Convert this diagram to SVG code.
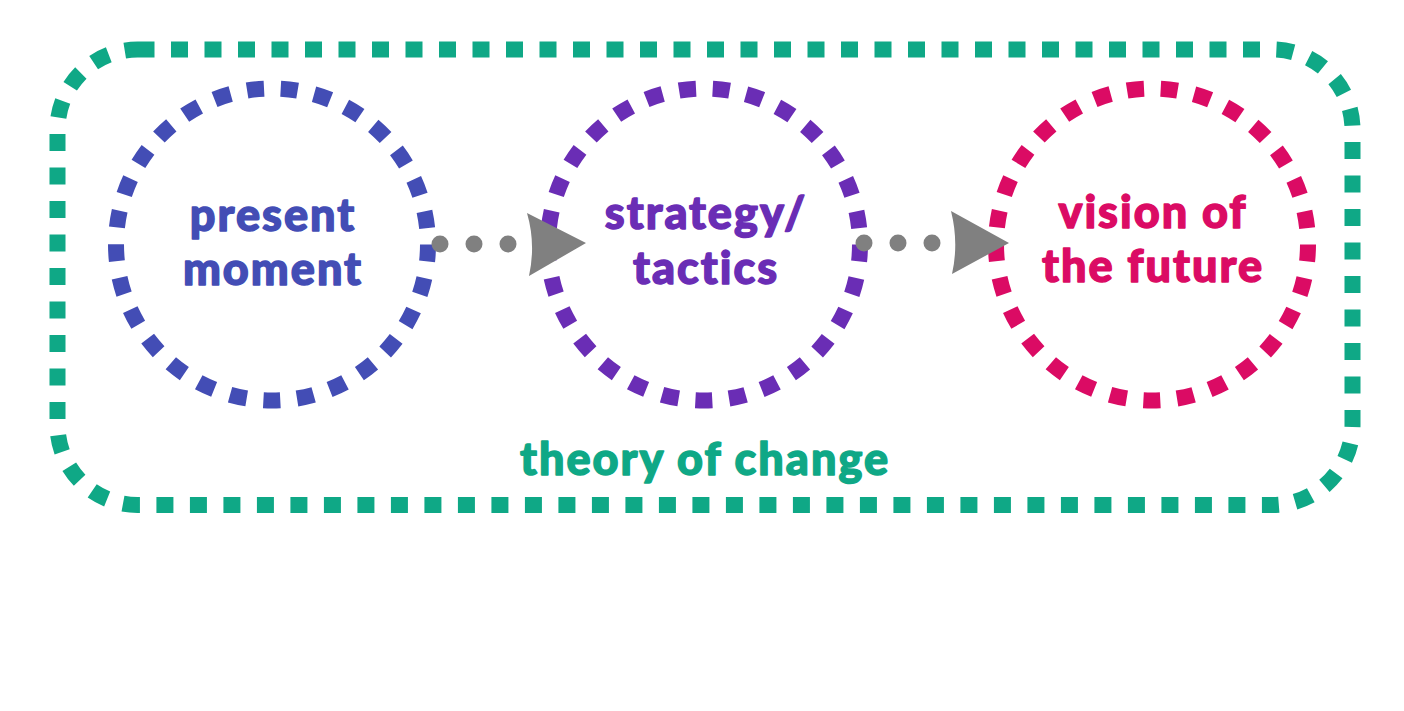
<svg xmlns="http://www.w3.org/2000/svg" width="1404" height="711" viewBox="0 0 1404 711">
<style>
.lbl{font-family:Lato,"Noto Sans",sans-serif;font-weight:900;font-size:45px;letter-spacing:2px;text-anchor:middle;stroke-width:1.4;stroke-linejoin:round}
.ring{fill:none;stroke-width:16;stroke-dasharray:17 16.8}
.dot{fill:#808080}
.head{fill:#808080}
</style>
<rect width="1404" height="711" fill="#fff"/>
<g id="theory-of-change">
<rect x="57.5" y="49.5" width="1295" height="455.5" rx="80" ry="80" fill="none" stroke="#0FA886" stroke-width="16" stroke-dasharray="17 16.5"/>
<text class="lbl" x="705" y="475" fill="#0FA886" stroke="#0FA886">theory of change</text>
</g>
<g id="present-moment">
<circle class="ring" cx="272" cy="244.5" r="156" stroke="#434DB5"/>
<text class="lbl" x="273" y="231" fill="#434DB5" stroke="#434DB5">present</text>
<text class="lbl" x="273" y="285" fill="#434DB5" stroke="#434DB5">moment</text>
</g>
<g id="strategy-tactics">
<circle class="ring" cx="704" cy="244.5" r="156" stroke="#6A2DB5"/>
<text class="lbl" x="706" y="229" fill="#6A2DB5" stroke="#6A2DB5">strategy/</text>
<text class="lbl" x="706" y="284" fill="#6A2DB5" stroke="#6A2DB5">tactics</text>
</g>
<g id="vision-of-the-future">
<circle class="ring" cx="1152" cy="244.5" r="156" stroke="#DB0B64"/>
<text class="lbl" x="1153" y="228" fill="#DB0B64" stroke="#DB0B64">vision of</text>
<text class="lbl" x="1153" y="282" fill="#DB0B64" stroke="#DB0B64">the future</text>
</g>
<g id="connectors">
<circle class="dot" cx="440" cy="244" r="8.5"/>
<circle class="dot" cx="474" cy="244" r="8.5"/>
<circle class="dot" cx="508" cy="244" r="8.5"/>
<path class="head" d="M527,213 L586,243 L529,276 Q536,244 527,213 Z"/>
<circle class="dot" cx="864" cy="243" r="8.5"/>
<circle class="dot" cx="898" cy="243" r="8.5"/>
<circle class="dot" cx="932" cy="243" r="8.5"/>
<path class="head" d="M951,211 L1009,243 L952,274 Q959,243 951,211 Z"/>
</g>
</svg>
